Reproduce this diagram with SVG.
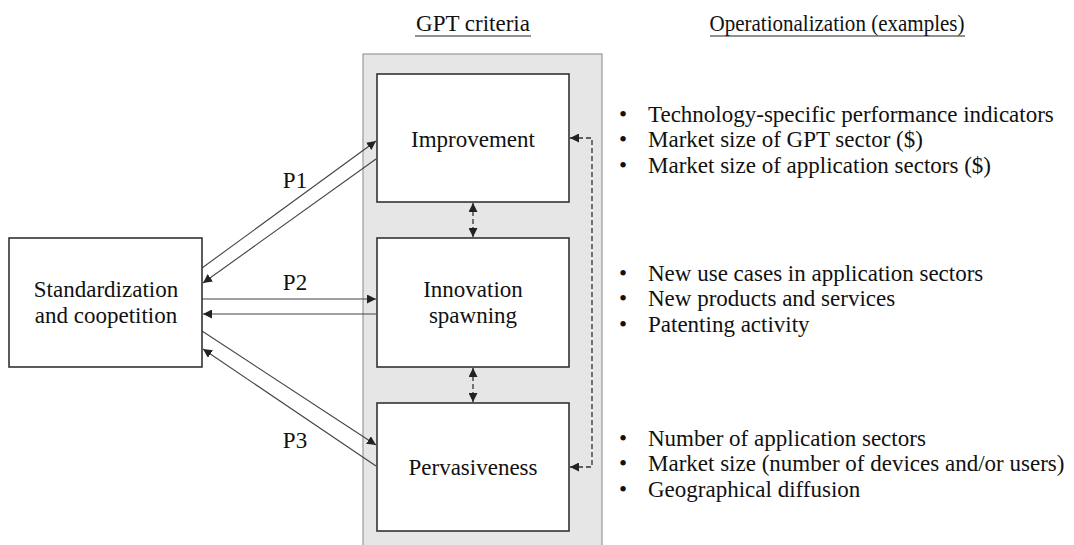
<svg xmlns="http://www.w3.org/2000/svg" width="1074" height="545" viewBox="0 0 1074 545">
<defs>
<style>
text{font-family:"Liberation Serif","Times New Roman",serif;font-size:23px;fill:#111}
.box{fill:#fff;stroke:#333;stroke-width:1.6}
.ln{stroke:#444;stroke-width:1.1;fill:none}
.dash{stroke:#333;stroke-width:1.3;fill:none;stroke-dasharray:5 3}
.c{text-anchor:middle}
</style>
<marker id="ah" viewBox="0 0 10 10" refX="10" refY="5" markerWidth="9" markerHeight="9" markerUnits="userSpaceOnUse" orient="auto-start-reverse">
<path d="M0,0 L10,5 L0,10 z" fill="#222"/>
</marker>
</defs>
<rect width="1074" height="545" fill="#fff"/>
<g id="titles">
<text x="473" y="31" class="c">GPT criteria</text>
<line x1="415" y1="36" x2="531" y2="36" stroke="#222" stroke-width="1.2"/>
<text x="837" y="31" class="c" textLength="255" lengthAdjust="spacingAndGlyphs">Operationalization (examples)</text>
<line x1="710" y1="36" x2="965" y2="36" stroke="#222" stroke-width="1.2"/>
</g>
<rect id="panel" x="363" y="54" width="239" height="500" fill="#e6e6e6" stroke="#9a9a9a" stroke-width="1.2"/>
<g id="connectors">
<line class="ln" x1="202" y1="268" x2="376" y2="141" marker-end="url(#ah)"/>
<line class="ln" x1="376" y1="159" x2="203" y2="283" marker-end="url(#ah)"/>
<line class="ln" x1="202" y1="299" x2="376" y2="299" marker-end="url(#ah)"/>
<line class="ln" x1="376" y1="314" x2="203" y2="314" marker-end="url(#ah)"/>
<line class="ln" x1="202" y1="331" x2="376" y2="445" marker-end="url(#ah)"/>
<line class="ln" x1="376" y1="466" x2="203" y2="349" marker-end="url(#ah)"/>
<line class="dash" x1="473" y1="203" x2="473" y2="237" marker-start="url(#ah)" marker-end="url(#ah)"/>
<line class="dash" x1="473" y1="368" x2="473" y2="402" marker-start="url(#ah)" marker-end="url(#ah)"/>
<path class="dash" d="M570,138 H592 V467 H570" marker-start="url(#ah)" marker-end="url(#ah)"/>
<text x="295" y="188" class="c">P1</text>
<text x="295" y="290" class="c">P2</text>
<text x="295" y="448" class="c">P3</text>
</g>
<g id="standardization">
<rect class="box" x="9" y="238" width="193" height="129"/>
<text x="106" y="297" class="c">Standardization</text>
<text x="106" y="323" class="c">and coopetition</text>
</g>
<g id="improvement">
<rect class="box" x="377" y="74" width="192" height="128"/>
<text x="473" y="147" class="c">Improvement</text>
</g>
<g id="innovation">
<rect class="box" x="377" y="238" width="192" height="129"/>
<text x="473" y="297" class="c">Innovation</text>
<text x="473" y="323" class="c">spawning</text>
</g>
<g id="pervasiveness">
<rect class="box" x="377" y="403" width="192" height="128"/>
<text x="473" y="475" class="c">Pervasiveness</text>
</g>
<g id="ops1">
<text x="619" y="122">•</text><text x="648" y="122">Technology-specific performance indicators</text>
<text x="619" y="147">•</text><text x="648" y="147">Market size of GPT sector ($)</text>
<text x="619" y="173">•</text><text x="648" y="173">Market size of application sectors ($)</text>
</g>
<g id="ops2">
<text x="619" y="281">•</text><text x="648" y="281">New use cases in application sectors</text>
<text x="619" y="306">•</text><text x="648" y="306">New products and services</text>
<text x="619" y="332">•</text><text x="648" y="332">Patenting activity</text>
</g>
<g id="ops3">
<text x="619" y="446">•</text><text x="648" y="446">Number of application sectors</text>
<text x="619" y="471">•</text><text x="648" y="471">Market size (number of devices and/or users)</text>
<text x="619" y="497">•</text><text x="648" y="497">Geographical diffusion</text>
</g>
</svg>
